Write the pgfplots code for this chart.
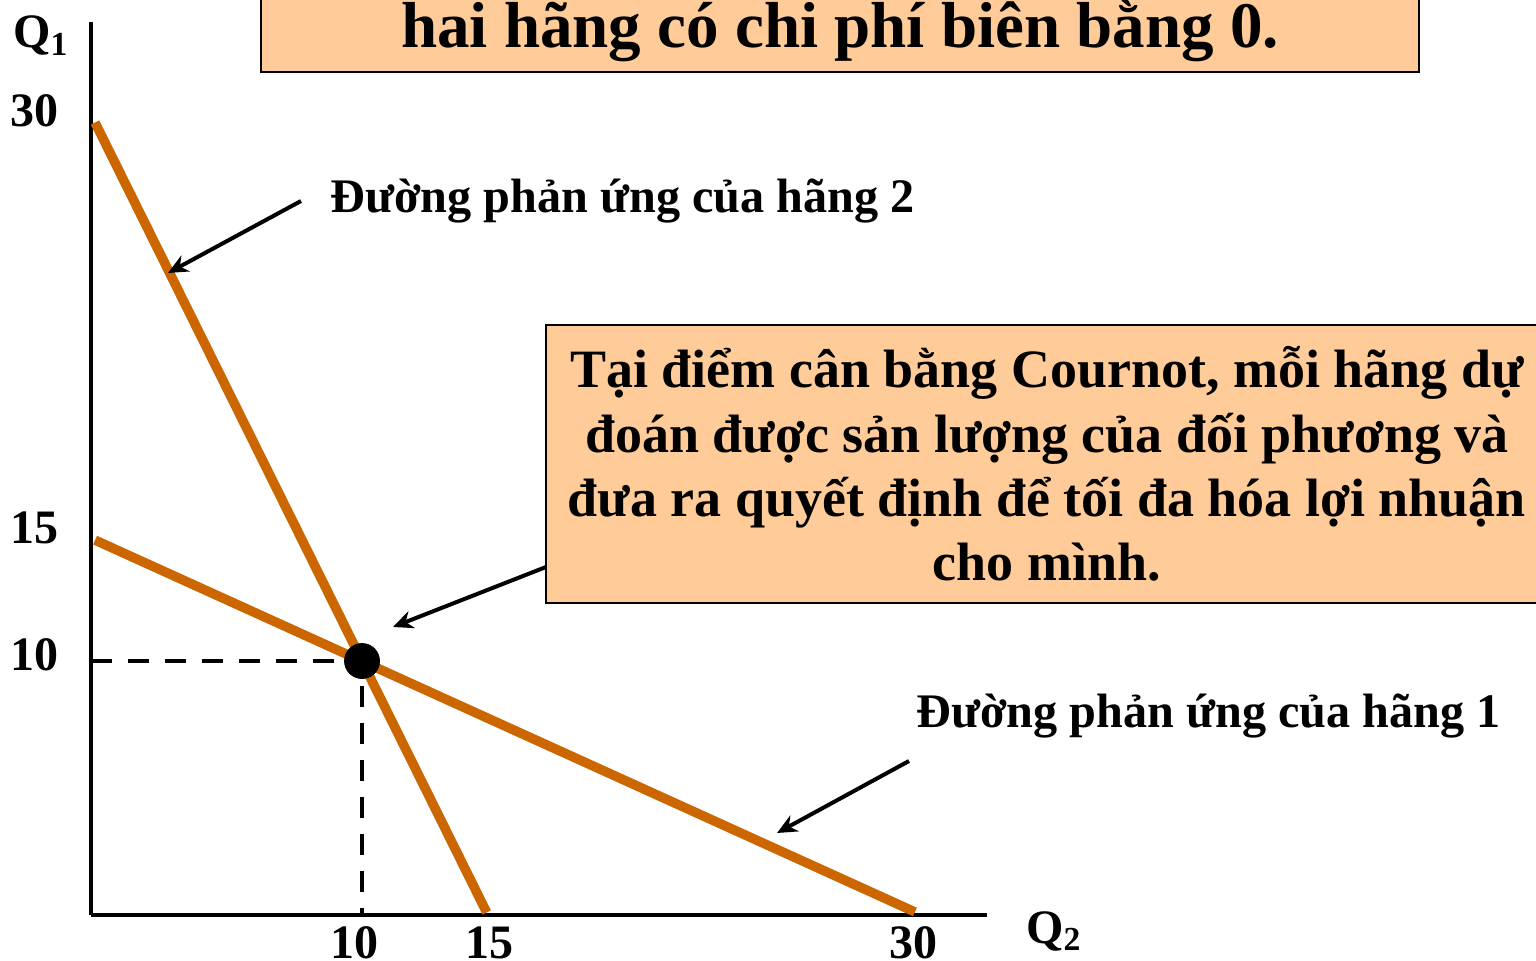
\documentclass[border=0pt]{standalone}
\usepackage{fontspec}
\setmainfont{Liberation Serif}
\usepackage{pgfplots}
\pgfplotsset{compat=1.18}
\usetikzlibrary{arrows.meta}
\definecolor{react}{HTML}{CC6600}
\definecolor{boxfill}{HTML}{FFCC99}

\begin{document}
\begin{tikzpicture}
% picture frame = 1536x960 px at 0.5pt per px, axis origin at px (91,915)
\useasboundingbox (-45.5pt,-22.5pt) rectangle (722.5pt,457.5pt);
\clip (-45.5pt,-22.5pt) rectangle (722.5pt,457.5pt);
\begin{axis}[
  scale only axis,
  width=448pt, height=446.5pt,
  xmin=0, xmax=33.06,
  ymin=0, ymax=35.16,
  axis lines=left,
  axis line style={-, line width=2.25pt},
  xtick={9.74,14.69,30.33}, xticklabels={10,15,30},
  ytick={10.24,15.24,31.65}, yticklabels={10,15,30},
  tick style={draw=none},
  tick label style={font=\fontsize{24}{24}\selectfont\bfseries, inner sep=0pt},
  xticklabel style={yshift=-3.5pt},
  yticklabel style={xshift=-14pt},
  /pgf/number format/assume math mode=true,
  clip=false,
]
% reaction curve of firm 2
\addplot[react, line width=4.75pt] coordinates {(0.15,31.2) (14.6,0.1)};
% reaction curve of firm 1
\addplot[react, line width=4.75pt] coordinates {(0.15,14.76) (30.4,0.12)};
% Cournot equilibrium
\addplot[black, line width=2.25pt, dash pattern=on 10.5pt off 8pt] coordinates {(0,10) (10,10) (10,0)};
\addplot[only marks, mark=*, mark size=8.75pt, black] coordinates {(10,10)};
\end{axis}

\begin{scope}[x=0.5pt, y=-0.5pt, xshift=-45.5pt, yshift=457.5pt]
  % axis names
  \node[anchor=base west, inner sep=0pt, font=\fontsize{24}{24}\selectfont\bfseries] at (13,48) {Q\textsubscript{1}};
  \node[anchor=base west, inner sep=0pt, font=\fontsize{24}{24}\selectfont\bfseries] at (1026,943) {Q\textsubscript{2}};

  % title box (cut by the top edge)
  \draw[fill=boxfill, line width=1pt] (261,-20) rectangle (1419,72);
  \node[anchor=base, inner sep=0pt, font=\fontsize{32.5}{32.5}\selectfont\bfseries] at (840,48) {hai hãng có chi phí biên bằng 0.};

  % curve labels
  \node[anchor=base west, inner sep=0pt, font=\fontsize{24.1}{24.1}\selectfont\bfseries] at (330,213) {Đường phản ứng của hãng 2};
  \node[anchor=base west, inner sep=0pt, font=\fontsize{24.1}{24.1}\selectfont\bfseries] at (916,727) {Đường phản ứng của hãng 1};

  % arrows
  \draw[line width=2pt, -{Stealth[length=10pt, width=9pt]}] (301,201) -- (168,273);
  \draw[line width=2pt, -{Stealth[length=10pt, width=9pt]}] (909,761) -- (777,833);
  \draw[line width=2pt, -{Stealth[length=10pt, width=9pt]}] (546,567) -- (393,627);

  % explanation box (cut by the right edge)
  \draw[fill=boxfill, line width=1pt] (546,325) rectangle (1560,603);
  \begin{scope}[every node/.style={anchor=base, inner sep=0pt, font=\fontsize{27}{27}\selectfont\bfseries}]
    \node at (1047,388) {Tại điểm cân bằng Cournot, mỗi hãng dự};
    \node at (1047,452) {đoán được sản lượng của đối phương và};
    \node at (1047,516) {đưa ra quyết định để tối đa hóa lợi nhuận};
    \node at (1047,580) {cho mình.};
  \end{scope}
\end{scope}
\end{tikzpicture}
\end{document}
